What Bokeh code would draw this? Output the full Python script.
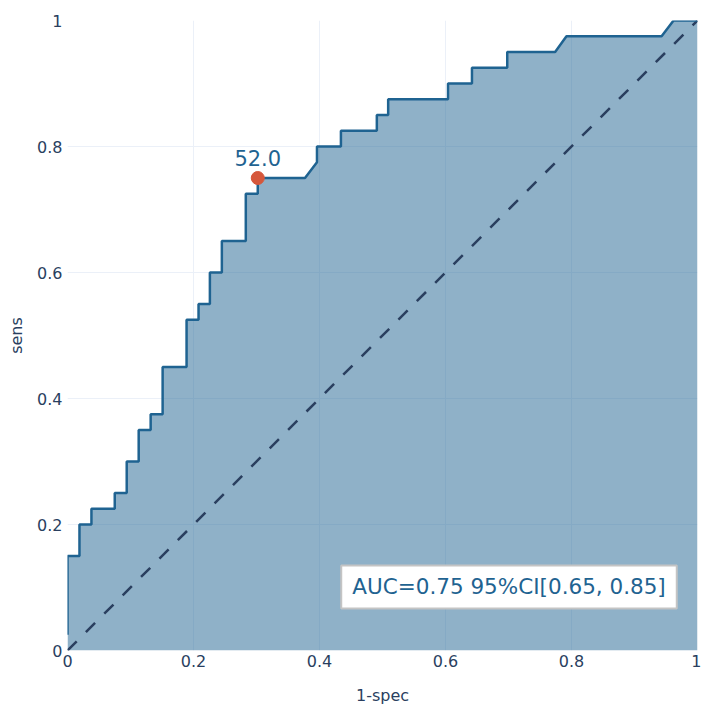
from bokeh.plotting import figure
from bokeh.models import Label, FixedTicker, NumeralTickFormatter
from bokeh.embed import file_html
from bokeh.resources import INLINE

# ROC curve vertices (1-spec, sens)
fpr = [0.0, 0.0, 0.019, 0.019, 0.038, 0.038, 0.075, 0.075, 0.094, 0.094,
       0.113, 0.113, 0.132, 0.132, 0.151, 0.151, 0.189, 0.189, 0.208, 0.208,
       0.226, 0.226, 0.245, 0.245, 0.283, 0.283, 0.302, 0.302, 0.377, 0.396,
       0.396, 0.434, 0.434, 0.491, 0.491, 0.509, 0.509, 0.604, 0.604, 0.642,
       0.642, 0.698, 0.698, 0.774, 0.792, 0.943, 0.962, 1.0]
tpr = [0.025, 0.15, 0.15, 0.2, 0.2, 0.225, 0.225, 0.25, 0.25, 0.3,
       0.3, 0.35, 0.35, 0.375, 0.375, 0.45, 0.45, 0.525, 0.525, 0.55,
       0.55, 0.6, 0.6, 0.65, 0.65, 0.725, 0.725, 0.75, 0.75, 0.775,
       0.8, 0.8, 0.825, 0.825, 0.85, 0.85, 0.875, 0.875, 0.9, 0.9,
       0.925, 0.925, 0.95, 0.95, 0.975, 0.975, 1.0, 1.0]

# chance diagonal
ref_x = [0, 1]
ref_y = [0, 1]

# optimal cut-off point
best_fpr = [0.302]
best_tpr = [0.75]
best_label = "52.0"

auc_text = "AUC=0.75 95%CI[0.65, 0.85]"
ticks = [0, 0.2, 0.4, 0.6, 0.8, 1.0]

LINE = "#1f6391"
FONT_C = "#2a3f5f"
GRID = "#ebf0f8"

p = figure(frame_width=630, frame_height=630,
           min_border_left=67, min_border_right=4, min_border_top=20, min_border_bottom=56,
           x_range=(0, 1), y_range=(0, 1),
           output_backend="svg", toolbar_location=None,
           background_fill_color="white", border_fill_color="white")
p.outline_line_color = None

for ax in (p.xaxis[0], p.yaxis[0]):
    ax.ticker = FixedTicker(ticks=ticks)
    ax.formatter = NumeralTickFormatter(format="0.[0]")
    ax.axis_line_color = None
    ax.major_tick_line_color = None
    ax.minor_tick_line_color = None
    ax.major_tick_out = 0
    ax.major_tick_in = 0
    ax.major_label_text_font = "DejaVu Sans"
    ax.major_label_text_font_size = "16px"
    ax.major_label_text_color = FONT_C
    ax.axis_label_text_font = "DejaVu Sans"
    ax.axis_label_text_font_size = "16px"
    ax.axis_label_text_font_style = "normal"
    ax.axis_label_text_color = FONT_C

p.xaxis.axis_label = "1-spec"
p.yaxis.axis_label = "sens"
p.xaxis.major_label_standoff = 4
p.yaxis.major_label_standoff = 5
p.xaxis.axis_label_standoff = 16
p.yaxis.axis_label_standoff = 8

p.grid.grid_line_color = GRID
p.grid.grid_line_width = 1
p.xgrid.ticker = FixedTicker(ticks=ticks)
p.ygrid.ticker = FixedTicker(ticks=ticks)

p.varea(x=fpr, y1=0, y2=tpr, fill_color=LINE, fill_alpha=0.5)
p.line(ref_x, ref_y, line_color=FONT_C, line_width=2.5, line_dash="13 13")
p.line(fpr, tpr, line_color=LINE, line_width=2.5)
p.scatter(best_fpr, best_tpr, size=13, color="#d6573b")

p.add_layout(Label(x=best_fpr[0], y=best_tpr[0], text=best_label, text_align="center",
                   text_baseline="alphabetic", y_offset=20,
                   text_font="DejaVu Sans", text_font_size="21px", text_color=LINE))

p.add_layout(Label(x=0.7008, y=0.1008, text=auc_text, text_align="center",
                   text_baseline="middle", text_font="DejaVu Sans", text_font_size="21.5px",
                   text_color=LINE, background_fill_color="white",
                   border_line_color="#c4c4c4", border_line_width=2,
                   padding=dict(left=11, right=11, top=9, bottom=9)))

open("out.html", "w").write(file_html(p, INLINE))
